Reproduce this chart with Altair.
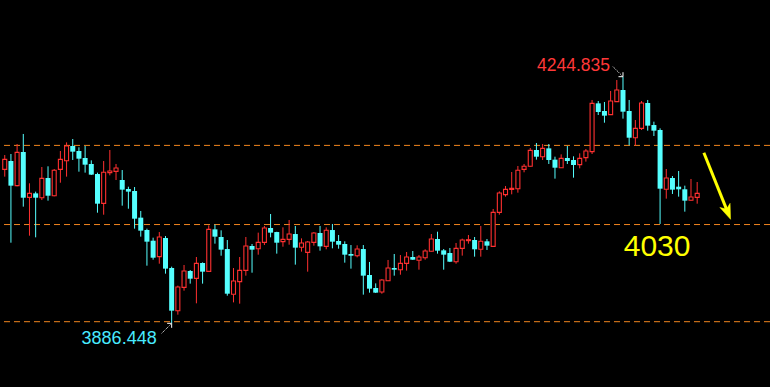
import altair as alt
import pandas as pd

# ---- candle data (index -1 is the partially visible first candle) ----
opens = [
    4110.2,
    4122.3, 4086.5, 4135.4, 4069.5, 4075.3, 4069.0, 4097.6, 4071.9, 4110.2, 4122.8,
    4144.1, 4136.9, 4126.7, 4118.0, 4103.4, 4060.8, 4105.4, 4107.3, 4094.7, 4081.6,
    4078.7, 4040.0, 4022.1, 4006.5, 3983.3, 4010.4, 3966.8, 3904.8, 3938.7, 3962.5,
    3951.8, 3974.1, 3962.0, 4023.0, 4011.9, 3994.4, 3928.6, 3947.0, 3963.4, 3998.8,
    3994.9, 4004.1, 4025.0, 4019.1, 4005.1, 4008.5, 4016.2, 3996.9, 3989.6, 4004.1,
    4017.7, 3998.3, 4022.0, 4006.1, 4001.7, 3987.2, 3984.7, 3994.4, 3956.7, 3937.8,
    3932.0, 3948.4, 3966.8, 3964.4, 3973.6, 3982.8, 3978.0, 3981.8, 3991.1, 4009.0,
    3992.5, 3988.6, 3976.0, 3995.4, 4006.6, 4007.5, 3994.0, 4005.6, 3998.3, 4047.7,
    4073.4, 4081.1, 4082.1, 4110.2, 4114.6, 4138.3, 4128.6, 4140.7, 4124.3, 4112.6,
    4126.7, 4123.8, 4117.0, 4127.2, 4135.9, 4206.1, 4195.0, 4189.7, 4208.6, 4225.5,
    4195.0, 4156.2, 4169.8, 4206.6, 4174.6, 4167.4, 4081.2, 4097.6, 4085.0, 4081.2,
    4065.2, 4069.5,
]
highs = [
    4131.0,
    4132.5, 4147.0, 4161.6, 4089.9, 4077.8, 4113.6, 4114.6, 4110.7, 4136.9, 4149.4,
    4154.3, 4142.2, 4144.1, 4123.3, 4105.4, 4122.3, 4138.3, 4118.0, 4109.2, 4085.0,
    4084.5, 4049.7, 4024.0, 4010.9, 4019.1, 4013.3, 3968.8, 3941.2, 3971.2, 3963.9,
    3982.8, 3975.0, 4028.8, 4029.8, 4021.6, 4007.5, 3966.8, 3982.8, 4011.9, 4001.7,
    4018.2, 4027.9, 4045.3, 4019.5, 4025.9, 4036.6, 4027.9, 4009.9, 4006.1, 4019.1,
    4027.9, 4025.9, 4030.8, 4014.8, 4005.6, 4000.2, 3999.8, 4000.2, 3975.6, 3944.5,
    3950.8, 3978.5, 3987.2, 3985.7, 3990.1, 3991.5, 3985.7, 3994.0, 4016.2, 4019.6,
    3994.4, 3995.9, 4003.2, 4009.5, 4014.8, 4011.9, 4027.9, 4009.0, 4052.6, 4078.2,
    4086.0, 4106.3, 4115.1, 4118.0, 4141.2, 4148.5, 4147.0, 4147.0, 4128.6, 4132.0,
    4144.1, 4129.1, 4133.5, 4139.8, 4211.0, 4209.5, 4208.1, 4224.1, 4240.0, 4244.835,
    4211.0, 4181.9, 4209.5, 4211.0, 4179.5, 4169.8, 4110.7, 4100.5, 4107.8, 4086.5,
    4096.2, 4091.8,
]
lows = [
    4099.6,
    4003.6, 4085.5, 4056.0, 4013.8, 4011.4, 4065.6, 4064.7, 4071.0, 4090.8, 4099.6,
    4123.8, 4106.8, 4105.4, 4102.0, 4047.2, 4044.3, 4101.5, 4094.7, 4057.4, 4053.0,
    4024.0, 4012.4, 3970.2, 3978.9, 3973.1, 3958.6, 3886.448, 3899.0, 3933.9, 3944.1,
    3915.5, 3944.1, 3961.5, 4002.2, 3984.7, 3926.6, 3916.9, 3915.0, 3955.7, 3960.0,
    3986.2, 4000.2, 4011.4, 3987.7, 3997.8, 4000.7, 3971.7, 3990.6, 3961.5, 3999.3,
    3992.0, 3994.0, 3995.4, 3994.9, 3974.6, 3965.9, 3982.3, 3928.1, 3931.0, 3930.5,
    3929.5, 3948.0, 3955.7, 3957.1, 3963.0, 3978.5, 3964.4, 3978.9, 3990.6, 3987.7,
    3964.4, 3975.5, 3973.1, 3984.8, 4002.2, 3983.3, 3983.3, 3993.0, 3997.8, 4044.3,
    4070.5, 4073.9, 4076.3, 4105.9, 4114.1, 4124.3, 4123.8, 4118.0, 4096.7, 4112.1,
    4118.0, 4098.1, 4111.7, 4121.4, 4132.5, 4189.2, 4178.0, 4189.2, 4208.1, 4183.9,
    4145.1, 4144.6, 4167.4, 4166.4, 4158.7, 4030.8, 4067.6, 4074.4, 4070.5, 4048.7,
    4064.7, 4060.3,
]
closes = [
    4124.7,
    4086.5, 4134.9, 4069.0, 4075.3, 4069.0, 4097.1, 4071.9, 4108.8, 4124.7, 4144.1,
    4135.9, 4125.7, 4117.0, 4102.5, 4060.3, 4105.9, 4107.8, 4112.1, 4080.7, 4077.8,
    4038.5, 4021.1, 4005.1, 3981.8, 4011.9, 3965.9, 3904.8, 3939.2, 3962.5, 3951.3,
    3973.6, 3961.5, 4023.0, 4012.4, 3993.5, 3929.5, 3947.9, 3963.4, 3998.8, 3993.5,
    4004.1, 4025.0, 4018.2, 4003.6, 4008.5, 4016.2, 3996.4, 4003.2, 4004.6, 4017.7,
    3998.3, 4021.6, 4005.1, 4000.7, 3986.2, 3984.7, 3994.4, 3955.7, 3936.8, 3931.0,
    3949.4, 3966.8, 3964.4, 3973.6, 3982.8, 3978.9, 3982.8, 3991.5, 4009.0, 3992.0,
    3986.2, 3976.0, 3995.4, 4007.5, 4008.0, 3994.0, 4005.6, 3999.3, 4047.7, 4075.8,
    4081.1, 4082.6, 4108.8, 4114.6, 4137.8, 4128.6, 4140.7, 4123.8, 4112.6, 4126.2,
    4122.3, 4116.5, 4126.2, 4136.9, 4206.1, 4193.5, 4188.2, 4209.5, 4225.5, 4194.0,
    4156.2, 4169.8, 4206.6, 4173.7, 4166.4, 4082.1, 4097.6, 4080.7, 4081.2, 4064.7,
    4070.0, 4075.3,
]
index = list(range(-1, len(opens) - 1))

levels = [4145.0, 4030.0, 3888.8]
level_label = "4030"
arrow_anchor = [116.4, 4030.0]  # index / price where the yellow arrow ends

RED = "#ff3030"
CYAN = "#55ffff"
ORANGE = "#f0841e"
YELLOW = "#ffff00"

df = pd.DataFrame({"i": index, "open": opens, "high": highs, "low": lows, "close": closes})
df["dir"] = ["up" if c >= o else "down" for o, c in zip(opens, closes)]

XS = alt.Scale(domain=[-0.958, 121.97], nice=False, zero=False)
YS = alt.Scale(domain=[3793.9, 4356.3], nice=False, zero=False)


def X(field="i"):
    return alt.X(f"{field}:Q", scale=XS, axis=None)


def Y(field):
    return alt.Y(f"{field}:Q", scale=YS, axis=None)


base = alt.Chart(df)

wicks = base.mark_rule(strokeWidth=1).encode(
    x=X(), y=Y("low"), y2="high:Q",
    color=alt.Color("dir:N", scale=alt.Scale(domain=["up", "down"], range=[RED, CYAN]), legend=None),
)
bear = base.transform_filter("datum.close < datum.open").mark_bar(width=5, color=CYAN).encode(
    x=X(), y=Y("open"), y2="close:Q"
)
bull = base.transform_filter("datum.close >= datum.open").mark_bar(
    width=4, fill="black", stroke=RED, strokeWidth=1.1
).encode(x=X(), y=Y("open"), y2="close:Q")

lines = alt.Chart(pd.DataFrame({"p": levels})).mark_rule(
    color=ORANGE, strokeWidth=1, strokeDash=[6, 4]
).encode(y=Y("p"))

# annotation anchors derived from data
hi = max(range(len(highs)), key=lambda k: highs[k])
lo = min(range(len(lows)), key=lambda k: lows[k])
touch = min(range(hi, len(lows)), key=lambda k: lows[k])

hi_df = pd.DataFrame({"i": [index[hi]], "p": [highs[hi]], "t": [f"{highs[hi]:.3f}"]})
lo_df = pd.DataFrame({"i": [index[lo]], "p": [lows[lo]], "t": [f"{lows[lo]:.3f}"]})
lvl_df = pd.DataFrame({"i": [index[touch]], "p": [levels[1]], "t": [level_label]})
arr_df = pd.DataFrame({"i": [arrow_anchor[0]], "p": [arrow_anchor[1]]})

hi_text = alt.Chart(hi_df).mark_text(
    align="right", baseline="alphabetic", dx=-13, dy=-6, fontSize=17.5,
    font="Liberation Sans", color="#ff3838"
).encode(x=X(), y=Y("p"), text="t:N")
lo_text = alt.Chart(lo_df).mark_text(
    align="right", baseline="alphabetic", dx=-15, dy=21, fontSize=18,
    font="Liberation Sans", color="#48eaff"
).encode(x=X(), y=Y("p"), text="t:N")
lvl_text = alt.Chart(lvl_df).mark_text(
    align="center", baseline="alphabetic", dx=-3, dy=31.5, fontSize=30,
    font="Liberation Sans", color=YELLOW
).encode(x=X(), y=Y("p"), text="t:N")

hi_shaft = alt.Chart(hi_df).mark_point(
    shape="M -1 -1 L -0.1 -0.1", size=400, filled=False, stroke="white",
    strokeWidth=1, strokeDash=[1, 1], opacity=1
).encode(x=X(), y=Y("p"))
hi_head = alt.Chart(hi_df).mark_point(
    shape="M -0.45 0 L 0 0 L 0 -0.45", size=400, filled=False, stroke="white",
    strokeWidth=1, opacity=1
).encode(x=X(), y=Y("p"))
lo_shaft = alt.Chart(lo_df).mark_point(
    shape="M -1 1 L -0.1 0.1", size=400, filled=False, stroke="white",
    strokeWidth=1, strokeDash=[1, 1], opacity=1
).encode(x=X(), y=Y("p"))
lo_head = alt.Chart(lo_df).mark_point(
    shape="M -0.45 0 L 0 0 L 0 0.45", size=400, filled=False, stroke="white",
    strokeWidth=1, opacity=1
).encode(x=X(), y=Y("p"))

arr_shaft = alt.Chart(arr_df).mark_point(
    shape="M -2.67 -7.18 L -0.409 -1.541", size=400, filled=False, stroke=YELLOW,
    strokeWidth=3, opacity=1
).encode(x=X(), y=Y("p"))
arr_head = alt.Chart(arr_df).mark_point(
    shape="M 0 -0.52 L -1.068 -1.707 L -0.409 -1.541 L -0.048 -2.117 Z", size=400,
    filled=True, fill=YELLOW, stroke=YELLOW, strokeWidth=0.5, opacity=1
).encode(x=X(), y=Y("p"))

chart = alt.layer(
    lines, wicks, bear, bull,
    hi_text, lo_text, lvl_text,
    hi_shaft, hi_head, lo_shaft, lo_head, arr_shaft, arr_head,
).properties(
    width=770, height=387, background="black", padding=0,
    autosize=alt.AutoSizeParams(type="none"),
).configure_view(stroke="transparent")

chart.save("out.html", embed_options={"renderer": "svg", "actions": False})
